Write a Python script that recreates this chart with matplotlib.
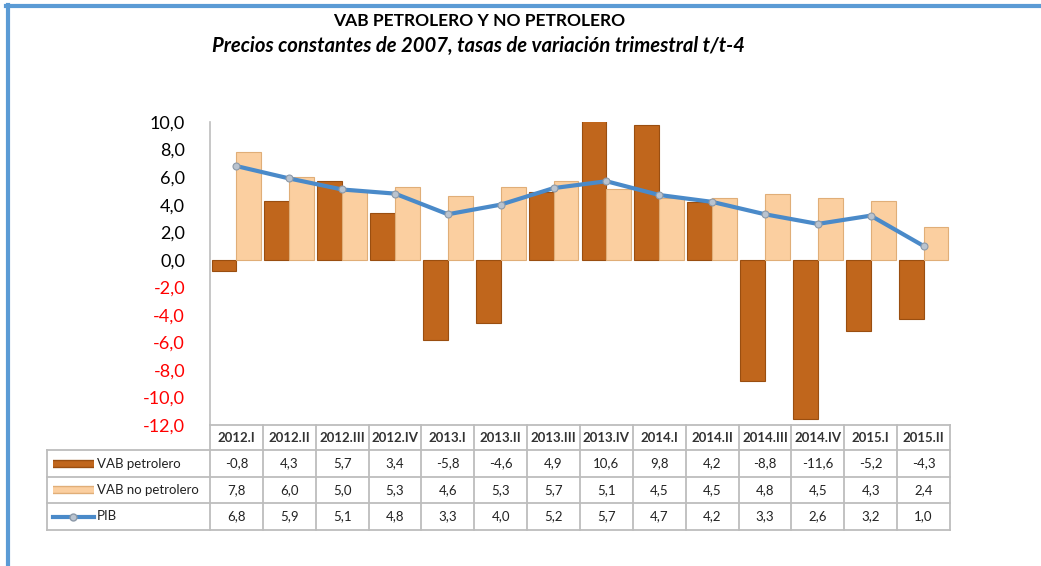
import numpy as np
import matplotlib
matplotlib.use("Agg")
import matplotlib.pyplot as plt
from matplotlib.lines import Line2D
import matplotlib.transforms as mtransforms

trimestres = ['2012.I', '2012.II', '2012.III', '2012.IV', '2013.I', '2013.II', '2013.III',
              '2013.IV', '2014.I', '2014.II', '2014.III', '2014.IV', '2015.I', '2015.II']
vab_petrolero = [-0.8, 4.3, 5.7, 3.4, -5.8, -4.6, 4.9, 10.6, 9.8, 4.2, -8.8, -11.6, -5.2, -4.3]
vab_no_petrolero = [7.8, 6.0, 5.0, 5.3, 4.6, 5.3, 5.7, 5.1, 4.5, 4.5, 4.8, 4.5, 4.3, 2.4]
pib = [6.8, 5.9, 5.1, 4.8, 3.3, 4.0, 5.2, 5.7, 4.7, 4.2, 3.3, 2.6, 3.2, 1.0]
series_nombres = ['VAB petrolero', 'VAB no petrolero', 'PIB']
y_ticks = np.arange(-12, 10.1, 2)

c_pet = '#C0661C'
c_nopet = '#FBCFA0'
c_pib = '#4A8AC9'
c_grid = '#BDBDBD'


def coma(v):
    return f'{v:.1f}'.replace('.', ',')


def main():
    plt.rcParams['font.family'] = ['Lato', 'DejaVu Sans']

    fig = plt.figure(figsize=(10.41, 5.66), dpi=100)
    W, H = 1041, 566
    ax = fig.add_axes([210 / W, 1 - 425 / H, 740 / W, 303 / H])

    x = np.arange(len(trimestres))
    w = 0.47
    ax.bar(x - w / 2, vab_petrolero, width=w, color=c_pet, edgecolor='#9A4E10', linewidth=0.8, zorder=2)
    ax.bar(x + w / 2, vab_no_petrolero, width=w, color=c_nopet, edgecolor='#E0AE78', linewidth=0.8, zorder=2)
    ax.plot(x, pib, color=c_pib, lw=3, marker='o', ms=5, mfc='#B9C3CF', mec='#8C99A8', mew=0.8, zorder=3)

    ax.set_xlim(-0.5, len(trimestres) - 0.5)
    ax.set_ylim(-12, 10)
    ax.set_yticks(y_ticks)
    ax.set_yticklabels([coma(v) for v in y_ticks], fontsize=13)
    for lab, v in zip(ax.get_yticklabels(), y_ticks):
        lab.set_color('red' if v < 0 else 'black')
    ax.tick_params(axis='y', length=0, pad=18)
    ax.set_xticks([])
    for s in ['top', 'right', 'bottom']:
        ax.spines[s].set_visible(False)
    ax.spines['left'].set_color(c_grid)
    ax.spines['left'].set_linewidth(1.2)

    # tabla de datos debajo del grafico
    tr = mtransforms.blended_transform_factory(ax.transData, ax.transAxes)
    px = 1 / 303
    y_lines = [0, -25 * px, -52 * px, -78 * px, -105 * px]
    x_left = (47 - 210) / (740 / 14) - 0.5
    x_right = len(trimestres) - 0.5
    lk = dict(color=c_grid, lw=1.3, transform=tr, clip_on=False)

    ax.add_line(Line2D([-0.5, x_right], [y_lines[0], y_lines[0]], **lk))
    for yl in y_lines[1:]:
        ax.add_line(Line2D([x_left, x_right], [yl, yl], **lk))
    for i in range(len(trimestres) + 1):
        ax.add_line(Line2D([i - 0.5, i - 0.5], [y_lines[0], y_lines[-1]], **lk))
    ax.add_line(Line2D([x_left, x_left], [y_lines[1], y_lines[-1]], **lk))

    yc_head = (y_lines[0] + y_lines[1]) / 2
    for i, t in enumerate(trimestres):
        ax.text(i, yc_head, t, transform=tr, ha='center', va='center', fontsize=9.5,
                fontweight='bold', color='#333333', clip_on=False)

    filas = [vab_petrolero, vab_no_petrolero, pib]
    for r, vals in enumerate(filas):
        yc = (y_lines[r + 1] + y_lines[r + 2]) / 2
        for i, v in enumerate(vals):
            ax.text(i, yc, coma(v), transform=tr, ha='center', va='center', fontsize=9.5,
                    color='#222222', clip_on=False)
        ax.text(x_left + 0.95, yc, series_nombres[r], transform=tr, ha='left', va='center',
                fontsize=9.5, color='#222222', clip_on=False)

    # muestras de la leyenda
    sx = [x_left + 0.12, x_left + 0.88]
    yc1 = (y_lines[1] + y_lines[2]) / 2
    yc2 = (y_lines[2] + y_lines[3]) / 2
    yc3 = (y_lines[3] + y_lines[4]) / 2
    ax.add_line(Line2D(sx, [yc1, yc1], color='#9A4E10', lw=6, transform=tr, clip_on=False,
                       solid_capstyle='butt'))
    ax.add_line(Line2D(sx, [yc1, yc1], color=c_pet, lw=4, transform=tr, clip_on=False,
                       solid_capstyle='butt'))
    ax.add_line(Line2D(sx, [yc2, yc2], color='#E0AE78', lw=6, transform=tr, clip_on=False,
                       solid_capstyle='butt'))
    ax.add_line(Line2D(sx, [yc2, yc2], color=c_nopet, lw=4, transform=tr, clip_on=False,
                       solid_capstyle='butt'))
    ax.add_line(Line2D(sx, [yc3, yc3], color=c_pib, lw=3, transform=tr, clip_on=False))
    ax.add_line(Line2D([sum(sx) / 2], [yc3], color=c_pib, marker='o', ms=5, mfc='#B9C3CF',
                       mec='#8C99A8', transform=tr, clip_on=False))

    # titulos
    fig.text(479 / W, 1 - 21 / H, 'VAB PETROLERO Y NO PETROLERO', ha='center', va='center',
             fontsize=12.5, fontweight='bold')
    fig.text(478 / W, 1 - 46 / H, 'Precios constantes de 2007, tasas de variación trimestral t/t-4',
             ha='center', va='center', fontsize=14.6, fontweight='bold', style='italic')

    # marco azul
    fig.add_artist(Line2D([7.5 / W, 7.5 / W], [0, 1 - 5 / H], color='#5B9BD5', lw=3,
                          transform=fig.transFigure))
    fig.add_artist(Line2D([6 / W, 1], [1 - 6 / H, 1 - 6 / H], color='#5B9BD5', lw=3,
                          transform=fig.transFigure))

    fig.savefig('out.png', dpi=100, facecolor='white')


if __name__ == "__main__":
    main()
